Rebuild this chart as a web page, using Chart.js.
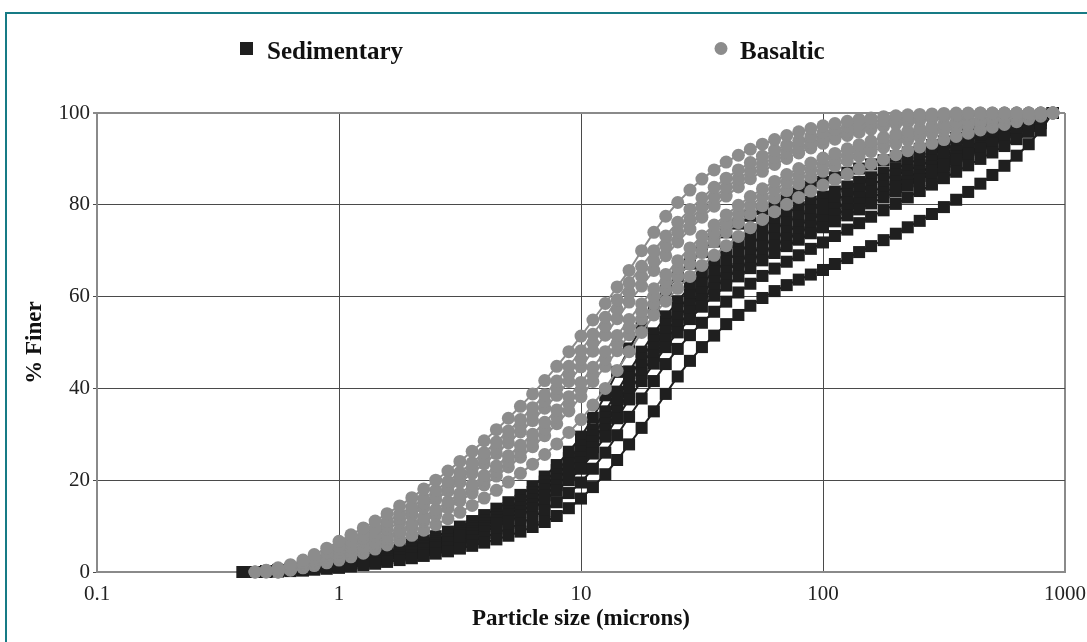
<!DOCTYPE html>
<html>
<head>
<meta charset="utf-8">
<title>Particle size distribution</title>
<script src="https://cdn.jsdelivr.net/npm/chart.js@4.4.1/dist/chart.umd.min.js"></script>
<style>
  html, body { margin: 0; padding: 0; background: #fff; }
  #wrap { position: relative; width: 1087px; height: 642px; overflow: hidden; }
  #frame { position: absolute; left: 5px; top: 12px; width: 1200px; height: 800px;
           border-left: 2px solid #177b85; border-top: 2px solid #177b85; }
  #chart { position: absolute; left: 0; top: 0; }
</style>
</head>
<body>
<div id="wrap">
  <div id="frame"></div>
  <canvas id="chart" width="1096" height="642"></canvas>
</div>
<script>
// particle sizes (microns) shared by every curve
const sizes = [0.40, 0.45, 0.50, 0.56, 0.63, 0.71, 0.79, 0.89,
  1.00, 1.12, 1.26, 1.41, 1.58, 1.78, 2.00, 2.24, 2.51, 2.82, 3.16, 3.55, 3.98, 4.47, 5.01, 5.62, 6.31, 7.08, 7.94, 8.91,
  10.0, 11.2, 12.6, 14.1, 15.8, 17.8, 20.0, 22.4, 25.1, 28.2, 31.6, 35.5, 39.8, 44.7, 50.1, 56.2, 63.1, 70.8, 79.4, 89.1,
  100, 112, 126, 141, 158, 178, 200, 224, 251, 282, 316, 355, 398, 447, 501, 562, 631, 708, 794, 891];

const seriesNames = ["Sedimentary", "Basaltic"];
const xTicks = [0.1, 1, 10, 100, 1000];
const yTicks = [0, 20, 40, 60, 80, 100];

// % finer, sedimentary samples
const sed1 = [0, 0, 0, 0.1, 0.2, 0.3, 0.5, 0.7,
  0.9, 1.2, 1.5, 1.8, 2.2, 2.6, 3.0, 3.5, 4.0, 4.5, 5.1, 5.7, 6.4, 7.1, 7.9, 8.8, 9.8, 10.9, 12.2, 13.9,
  16.0, 18.5, 21.3, 24.4, 27.8, 31.4, 35.0, 38.8, 42.6, 46.0, 49.0, 51.5, 54.0, 56.0, 58.0, 59.7, 61.2, 62.5, 63.7, 64.8,
  65.8, 67.1, 68.4, 69.7, 71.0, 72.3, 73.7, 75.1, 76.5, 78.0, 79.5, 81.1, 82.8, 84.6, 86.5, 88.5, 90.7, 93.2, 96.2, 100];
const sed2 = [0, 0, 0.1, 0.2, 0.3, 0.5, 0.7, 1.0,
  1.3, 1.6, 1.9, 2.3, 2.7, 3.1, 3.6, 4.1, 4.7, 5.3, 6.0, 6.8, 7.6, 8.5, 9.5, 10.6, 11.9, 13.4, 15.2, 17.2,
  19.5, 22.5, 26.0, 29.8, 33.8, 37.8, 41.6, 45.3, 48.6, 51.6, 54.3, 56.7, 58.9, 60.9, 62.8, 64.5, 66.1, 67.6, 69.0, 70.4,
  71.8, 73.2, 74.6, 76.0, 77.4, 78.8, 80.2, 81.6, 83.0, 84.4, 85.8, 87.2, 88.6, 90.0, 91.4, 92.8, 94.3, 95.9, 97.8, 100];
const sed3 = [null, 0, 0.1, 0.3, 0.4, 0.6, 0.9, 1.2,
  1.6, 1.9, 2.3, 2.7, 3.1, 3.6, 4.2, 4.8, 5.4, 6.1, 6.9, 7.8, 8.8, 9.9, 11.0, 12.3, 13.8, 15.6, 17.7, 20.0,
  22.5, 25.8, 29.5, 33.5, 37.6, 41.6, 45.4, 49.0, 52.2, 55.1, 57.8, 60.2, 62.4, 64.4, 66.2, 67.9, 69.5, 71.0, 72.4, 73.8,
  75.1, 76.4, 77.7, 79.0, 80.3, 81.6, 82.9, 84.2, 85.5, 86.8, 88.1, 89.4, 90.7, 92.0, 93.3, 94.6, 95.9, 97.2, 98.6, 100];
const sed4 = [null, 0, 0.1, 0.3, 0.5, 0.7, 1.0, 1.3,
  1.7, 2.0, 2.4, 2.8, 3.3, 3.8, 4.5, 5.1, 5.8, 6.5, 7.4, 8.3, 9.4, 10.5, 11.7, 13.1, 14.8, 16.7, 18.9, 21.3,
  23.8, 27.2, 31.0, 35.0, 39.2, 43.3, 47.1, 50.6, 53.8, 56.7, 59.4, 61.8, 64.0, 66.0, 67.8, 69.5, 71.1, 72.6, 74.0, 75.3,
  76.6, 77.8, 79.0, 80.3, 81.5, 82.7, 83.9, 85.1, 86.3, 87.5, 88.7, 89.9, 91.1, 92.3, 93.5, 94.7, 95.9, 97.2, 98.5, 100];
const sed5 = [null, 0, 0.1, 0.3, 0.5, 0.8, 1.1, 1.5,
  1.9, 2.2, 2.6, 3.0, 3.5, 4.1, 4.8, 5.5, 6.2, 7.0, 7.9, 8.9, 10.0, 11.2, 12.5, 14.0, 15.8, 17.9, 20.2, 22.6,
  25.0, 28.5, 32.4, 36.6, 40.9, 45.0, 48.9, 52.3, 55.4, 58.3, 60.9, 63.3, 65.5, 67.5, 69.3, 71.0, 72.6, 74.1, 75.5, 76.8,
  78.0, 79.2, 80.4, 81.6, 82.8, 83.9, 85.0, 86.1, 87.2, 88.3, 89.4, 90.5, 91.6, 92.7, 93.8, 94.9, 96.0, 97.2, 98.5, 100];
const sed6 = [null, 0, 0.1, 0.3, 0.5, 0.8, 1.2, 1.6,
  2.0, 2.4, 2.8, 3.2, 3.7, 4.3, 5.1, 5.8, 6.6, 7.4, 8.4, 9.4, 10.6, 11.8, 13.2, 14.7, 16.6, 18.8, 21.2, 23.7,
  26.2, 29.7, 33.7, 37.9, 42.3, 46.5, 50.4, 54.0, 57.2, 60.2, 62.9, 65.4, 67.7, 69.7, 71.5, 73.2, 74.7, 76.2, 77.5, 78.8,
  80.0, 81.1, 82.2, 83.3, 84.4, 85.5, 86.5, 87.5, 88.6, 89.6, 90.7, 91.7, 92.8, 93.8, 94.8, 95.8, 96.8, 97.8, 98.9, 100];
const sed7 = [null, 0, 0.2, 0.3, 0.6, 0.9, 1.3, 1.7,
  2.2, 2.5, 2.9, 3.4, 3.9, 4.6, 5.4, 6.2, 7.0, 7.9, 8.9, 10.0, 11.2, 12.5, 13.9, 15.5, 17.4, 19.7, 22.2, 24.8,
  27.5, 31.0, 35.0, 39.3, 43.7, 48.0, 52.0, 55.7, 59.0, 62.2, 65.0, 67.5, 69.9, 71.9, 73.7, 75.3, 76.8, 78.2, 79.5, 80.7,
  81.8, 82.9, 84.0, 85.0, 86.0, 87.0, 88.0, 89.0, 90.0, 91.0, 92.0, 93.0, 94.0, 95.0, 95.9, 96.8, 97.6, 98.4, 99.2, 100];
const sed8 = [0, 0, 0.2, 0.4, 0.7, 1.0, 1.4, 1.9,
  2.5, 2.8, 3.2, 3.7, 4.3, 5.1, 6.0, 6.9, 7.8, 8.8, 9.9, 11.1, 12.4, 13.8, 15.2, 16.8, 18.6, 20.8, 23.3, 26.2,
  29.5, 33.6, 38.5, 43.6, 48.7, 53.3, 57.5, 61.2, 64.4, 67.2, 69.7, 72.0, 74.0, 75.9, 77.6, 79.1, 80.5, 81.8, 82.9, 84.0,
  85.0, 86.0, 87.0, 87.9, 88.8, 89.7, 90.6, 91.4, 92.2, 93.0, 93.8, 94.6, 95.4, 96.2, 97.0, 97.7, 98.4, 99.0, 99.5, 100];

// % finer, basaltic samples
const bas1 = [null, 0, 0.4, 0.9, 1.6, 2.6, 3.8, 5.2,
  6.7, 8.1, 9.6, 11.1, 12.7, 14.4, 16.2, 18.1, 20.0, 22.0, 24.1, 26.3, 28.6, 31.0, 33.5, 36.1, 38.8, 41.7, 44.8, 48.0,
  51.4, 54.9, 58.5, 62.1, 65.7, 70.0, 74.0, 77.5, 80.5, 83.2, 85.6, 87.6, 89.3, 90.8, 92.1, 93.2, 94.2, 95.1, 95.9, 96.6,
  97.2, 97.7, 98.2, 98.6, 98.9, 99.2, 99.4, 99.6, 99.7, 99.8, 99.9, 100, 100, 100, 100, 100, 100, 100, 100, 100];
const bas2 = [null, 0, 0.3, 0.7, 1.3, 2.1, 3.0, 4.2,
  5.5, 6.8, 8.1, 9.5, 11.0, 12.6, 14.2, 16.0, 17.8, 19.7, 21.7, 23.8, 26.0, 28.3, 30.7, 33.2, 35.8, 38.6, 41.6, 44.8,
  48.2, 51.8, 55.5, 59.3, 63.0, 66.6, 70.0, 73.2, 76.2, 79.0, 81.5, 83.8, 85.8, 87.6, 89.2, 90.6, 91.9, 93.0, 94.0, 94.9,
  95.7, 96.4, 97.0, 97.5, 98.0, 98.4, 98.7, 99.0, 99.3, 99.5, 99.7, 99.8, 99.9, 100, 100, 100, 100, 100, 100, 100];
const bas3 = [null, 0, 0.2, 0.5, 1.1, 1.8, 2.6, 3.7,
  4.9, 6.1, 7.3, 8.7, 10.1, 11.7, 13.3, 15.0, 16.8, 18.6, 20.6, 22.6, 24.8, 27.0, 29.4, 31.8, 34.4, 37.1, 40.0, 43.1,
  46.4, 49.9, 53.5, 57.2, 60.9, 64.4, 67.8, 71.0, 74.0, 76.8, 79.4, 81.7, 83.8, 85.7, 87.4, 88.9, 90.3, 91.5, 92.6, 93.6,
  94.5, 95.3, 96.0, 96.6, 97.2, 97.7, 98.1, 98.5, 98.8, 99.1, 99.4, 99.6, 99.7, 99.8, 99.9, 100, 100, 100, 100, 100];
const bas4 = [null, null, 0, 0.4, 0.9, 1.5, 2.3, 3.2,
  4.3, 5.4, 6.6, 7.9, 9.3, 10.8, 12.4, 14.0, 15.8, 17.6, 19.5, 21.5, 23.6, 25.8, 28.1, 30.5, 33.0, 35.7, 38.5, 41.5,
  44.7, 48.1, 51.6, 55.2, 58.8, 62.3, 65.7, 68.9, 71.9, 74.7, 77.3, 79.7, 81.9, 83.9, 85.7, 87.3, 88.8, 90.1, 91.3, 92.4,
  93.4, 94.3, 95.1, 95.8, 96.5, 97.1, 97.6, 98.0, 98.4, 98.8, 99.1, 99.3, 99.5, 99.7, 99.8, 99.9, 100, 100, 100, 100];
const bas5 = [null, null, 0, 0.3, 0.7, 1.2, 1.8, 2.6,
  3.5, 4.5, 5.5, 6.6, 7.8, 9.1, 10.5, 12.0, 13.6, 15.3, 17.1, 19.0, 21.0, 23.1, 25.3, 27.6, 30.0, 32.6, 35.3, 38.2,
  41.3, 44.6, 48.0, 51.5, 55.0, 58.4, 61.7, 64.8, 67.8, 70.6, 73.2, 75.6, 77.8, 79.9, 81.8, 83.5, 85.1, 86.6, 87.9, 89.1,
  90.2, 91.2, 92.2, 93.1, 93.9, 94.7, 95.4, 96.0, 96.6, 97.1, 97.6, 98.0, 98.4, 98.7, 99.0, 99.3, 99.5, 99.7, 99.9, 100];
const bas6 = [null, null, null, 0, 0.5, 1.0, 1.6, 2.3,
  3.3, 4.2, 5.2, 6.3, 7.4, 8.7, 10.0, 11.5, 13.0, 14.6, 16.3, 18.1, 20.0, 22.0, 24.1, 26.3, 28.6, 31.1, 33.8, 36.6,
  39.7, 43.0, 46.4, 49.8, 53.3, 56.8, 60.1, 63.2, 66.1, 68.9, 71.4, 73.8, 76.0, 78.0, 79.9, 81.7, 83.3, 84.9, 86.3, 87.6,
  88.8, 89.9, 90.9, 91.9, 92.8, 93.6, 94.4, 95.1, 95.7, 96.3, 96.9, 97.4, 97.9, 98.3, 98.7, 99.0, 99.3, 99.6, 99.9, 100];
const bas7 = [null, null, null, 0, 0.5, 1.1, 1.7, 2.4,
  3.2, 4.0, 5.0, 6.0, 7.1, 8.3, 9.6, 11.0, 12.4, 13.9, 15.5, 17.2, 19.0, 20.9, 22.9, 25.0, 27.3, 29.7, 32.3, 35.1,
  38.2, 41.5, 44.8, 48.2, 51.7, 55.1, 58.4, 61.5, 64.4, 67.1, 69.6, 71.9, 74.1, 76.1, 78.0, 79.8, 81.5, 83.1, 84.6, 86.0,
  87.3, 88.5, 89.6, 90.6, 91.6, 92.5, 93.3, 94.1, 94.8, 95.5, 96.1, 96.7, 97.3, 97.8, 98.3, 98.7, 99.1, 99.5, 99.8, 100];
const bas8 = [null, null, null, 0, 0.4, 0.9, 1.4, 2.0,
  2.6, 3.3, 4.1, 5.0, 5.9, 6.9, 8.0, 9.1, 10.3, 11.6, 13.0, 14.5, 16.1, 17.8, 19.6, 21.5, 23.5, 25.6, 27.9, 30.4,
  33.2, 36.4, 40.0, 43.9, 48.0, 52.2, 56.0, 59.0, 61.8, 64.4, 66.8, 69.0, 71.1, 73.1, 75.0, 76.8, 78.5, 80.1, 81.6, 83.0,
  84.3, 85.5, 86.7, 87.8, 88.9, 89.9, 90.9, 91.8, 92.6, 93.4, 94.2, 94.9, 95.6, 96.3, 96.9, 97.5, 98.1, 98.7, 99.3, 100];

const sedColor = "#1f1f1f";
const basColor = "#8c8c8c";
const serif = '"Liberation Serif", "Times New Roman", serif';

function toPoints(vals) {
  return vals.map((v, i) => (v === null ? null : { x: sizes[i], y: v })).filter(p => p);
}

function makeSet(vals, name, color, style, radius, order) {
  return {
    label: name,
    data: toPoints(vals),
    borderColor: color,
    backgroundColor: color,
    borderWidth: 2,
    pointStyle: style,
    pointRadius: radius,
    pointBorderWidth: 0,
    pointBackgroundColor: color,
    tension: 0,
    clip: false,
    order: order
  };
}

const sedSeries = [sed1, sed2, sed3, sed4, sed5, sed6, sed7, sed8];
const basSeries = [bas1, bas2, bas3, bas4, bas5, bas6, bas7, bas8];

const datasets = [
  ...sedSeries.map(v => makeSet(v, seriesNames[0], sedColor, "rect", 8.5, 2)),
  ...basSeries.map(v => makeSet(v, seriesNames[1], basColor, "circle", 6.5, 1))
];

// legend drawn above the plot, like the original figure
const topLegend = {
  id: "topLegend",
  afterDraw(chart) {
    const ctx = chart.ctx;
    ctx.save();
    ctx.font = "bold 25px " + serif;
    ctx.textBaseline = "alphabetic";

    ctx.fillStyle = sedColor;
    ctx.fillRect(240, 42, 13, 13);
    ctx.fillStyle = "#111";
    ctx.fillText(seriesNames[0], 267, 59);

    ctx.fillStyle = basColor;
    ctx.beginPath();
    ctx.arc(721, 48.5, 6.5, 0, Math.PI * 2);
    ctx.fill();
    ctx.fillStyle = "#111";
    ctx.fillText(seriesNames[1], 740, 59);
    ctx.restore();
  }
};

const edgeGrey = "#8a8a8a";
const gridDark = "#4a4a4a";

new Chart(document.getElementById("chart"), {
  type: "line",
  data: { datasets },
  plugins: [topLegend],
  options: {
    responsive: false,
    animation: false,
    layout: { padding: { left: 10, top: 113, right: 22, bottom: 0 } },
    plugins: {
      legend: { display: false },
      tooltip: { enabled: false }
    },
    scales: {
      x: {
        type: "logarithmic",
        min: 0.1,
        max: 1000,
        afterBuildTicks: s => { s.ticks = xTicks.map(v => ({ value: v })); },
        afterFit: s => { s.height = 70; },
        border: { display: true, color: edgeGrey, width: 2 },
        grid: {
          drawTicks: false,
          color: c => (c.tick && (c.tick.value === 0.1 || c.tick.value === 1000)) ? edgeGrey : gridDark,
          lineWidth: c => (c.tick && (c.tick.value === 0.1 || c.tick.value === 1000)) ? 2 : 1
        },
        ticks: {
          autoSkip: false,
          maxRotation: 0,
          padding: 10,
          color: "#222",
          font: { family: serif, size: 21 },
          callback: v => String(v)
        },
        title: {
          display: true,
          text: "Particle size (microns)",
          color: "#111",
          font: { family: serif, size: 23, weight: "bold" },
          padding: { top: 0, bottom: 9 }
        }
      },
      y: {
        min: 0,
        max: 100,
        afterBuildTicks: s => { s.ticks = yTicks.map(v => ({ value: v })); },
        afterFit: s => { s.width = 87; },
        border: { display: true, color: edgeGrey, width: 2 },
        grid: {
          tickLength: 4,
          color: c => (c.tick && c.tick.value === 100) ? edgeGrey : gridDark,
          lineWidth: c => (c.tick && c.tick.value === 100) ? 2 : 1
        },
        ticks: {
          padding: 3,
          color: "#222",
          font: { family: serif, size: 21 }
        },
        title: {
          display: true,
          text: "% Finer",
          color: "#111",
          font: { family: serif, size: 23, weight: "bold" },
          padding: { top: 11, bottom: 0 }
        }
      }
    }
  }
});
</script>
</body>
</html>
